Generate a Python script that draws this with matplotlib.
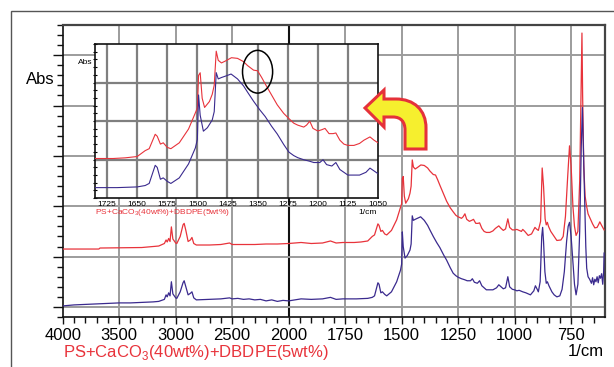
import numpy as np
import matplotlib
matplotlib.use("Agg")
import matplotlib.pyplot as plt
from matplotlib.patches import Ellipse, Rectangle, PathPatch
from matplotlib.path import Path
from matplotlib.ticker import FixedLocator, NullFormatter

plt.rcParams['font.family'] = ['Liberation Sans', 'DejaVu Sans']
plt.rcParams['mathtext.fontset'] = 'custom'
plt.rcParams['mathtext.rm'] = 'Liberation Sans'

# ---------------- data ----------------
red_wn = [4000, 3680, 3670, 3300, 3150, 3100, 3085, 3075, 3062, 3050, 3038, 3025, 3000, 2990,
          2960, 2935, 2925, 2910, 2890, 2870, 2856, 2840, 2817, 2700, 2600, 2523, 2500, 2400,
          2300, 2200, 2100, 2000, 1945, 1900, 1850, 1815, 1790, 1760, 1710, 1680, 1650, 1630,
          1620, 1605, 1600, 1592, 1585, 1575, 1566, 1545, 1522, 1505, 1500, 1497, 1493, 1488,
          1482, 1470, 1463, 1458, 1453, 1448, 1440, 1430, 1415, 1400, 1385, 1375, 1360, 1350,
          1340, 1331, 1315, 1301, 1285, 1272, 1260, 1250, 1235, 1228, 1220, 1212, 1200, 1190,
          1182, 1172, 1162, 1155, 1145, 1135, 1125, 1110, 1096, 1085, 1070, 1060, 1050, 1040,
          1030, 1022, 1010, 1000, 990, 980, 970, 964, 955, 940, 925, 910, 904, 895, 885, 878,
          872, 865, 860, 855, 850, 840, 825, 813, 795, 785, 775, 765, 757, 750, 742, 735, 728,
          720, 712, 705, 702, 699, 694, 688, 681, 675, 665, 655, 645, 635, 628, 623, 615, 604]
red_abs = [1.15, 1.15, 1.17, 1.18, 1.21, 1.26, 1.33, 1.29, 1.36, 1.30, 1.59, 1.35, 1.27, 1.26,
           1.40, 1.63, 1.66, 1.52, 1.30, 1.33, 1.38, 1.26, 1.23, 1.23, 1.24, 1.27, 1.24, 1.24,
           1.24, 1.25, 1.25, 1.26, 1.28, 1.26, 1.27, 1.31, 1.27, 1.28, 1.28, 1.29, 1.31, 1.40,
           1.43, 1.65, 1.62, 1.50, 1.52, 1.45, 1.43, 1.52, 1.73, 1.98, 2.05, 2.55, 2.59, 2.20,
           2.06, 2.15, 2.26, 2.40, 2.92, 2.78, 2.74, 2.77, 2.82, 2.81, 2.76, 2.70, 2.63, 2.62,
           2.52, 2.42, 2.25, 2.10, 1.97, 1.89, 1.82, 1.79, 1.76, 1.79, 1.85, 1.74, 1.70, 1.72,
           1.74, 1.66, 1.66, 1.67, 1.56, 1.50, 1.48, 1.48, 1.51, 1.56, 1.61, 1.56, 1.52, 1.55,
           1.75, 1.58, 1.53, 1.53, 1.54, 1.52, 1.50, 1.54, 1.50, 1.42, 1.45, 1.58, 1.55, 1.52,
           1.70, 2.76, 2.40, 1.75, 1.63, 1.68, 1.60, 1.50, 1.40, 1.32, 1.33, 1.40, 1.80, 2.60,
           3.20, 2.80, 2.00, 1.60, 1.42, 1.50, 2.50, 4.50, 5.44, 4.20, 2.80, 2.20, 1.99, 1.85,
           1.75, 1.65, 1.57, 1.58, 1.64, 1.69, 1.62, 1.53]

blue_wn = [4000, 3900, 3800, 3700, 3600, 3500, 3400, 3300, 3200, 3150, 3100, 3085, 3075, 3062,
           3050, 3038, 3025, 3000, 2990, 2960, 2935, 2925, 2910, 2890, 2870, 2856, 2840, 2817,
           2700, 2600, 2523, 2500, 2450, 2400, 2350, 2300, 2250, 2200, 2150, 2100, 2050, 2000,
           1945, 1900, 1850, 1815, 1790, 1760, 1700, 1650, 1630, 1620, 1605, 1600, 1592, 1585,
           1575, 1566, 1545, 1522, 1505, 1500, 1497, 1493, 1485, 1475, 1463, 1458, 1453, 1448,
           1440, 1430, 1416, 1400, 1385, 1375, 1360, 1345, 1331, 1315, 1301, 1285, 1272, 1260,
           1250, 1235, 1221, 1210, 1195, 1187, 1178, 1165, 1155, 1145, 1125, 1096, 1080, 1070,
           1060, 1050, 1040, 1030, 1022, 1010, 1000, 990, 980, 964, 950, 930, 915, 908, 900,
           895, 887, 880, 876, 872, 866, 860, 855, 848, 835, 825, 813, 800, 790, 780, 770, 763,
           757, 750, 742, 735, 728, 720, 712, 705, 700, 696, 690, 685, 681, 675, 668, 660, 655,
           650, 645, 640, 635, 630, 625, 620, 615, 610, 606, 604]
blue_abs = [0.02, 0.04, 0.05, 0.06, 0.07, 0.08, 0.08, 0.09, 0.10, 0.11, 0.15, 0.24, 0.20, 0.28,
            0.22, 0.50, 0.26, 0.18, 0.17, 0.30, 0.48, 0.52, 0.40, 0.24, 0.27, 0.30, 0.18, 0.14,
            0.15, 0.16, 0.18, 0.16, 0.17, 0.15, 0.16, 0.14, 0.15, 0.12, 0.14, 0.11, 0.13, 0.12,
            0.16, 0.15, 0.16, 0.19, 0.15, 0.16, 0.16, 0.17, 0.19, 0.22, 0.48, 0.45, 0.28, 0.30,
            0.25, 0.22, 0.30, 0.50, 0.73, 0.85, 1.49, 1.20, 0.97, 1.02, 1.13, 1.25, 1.81, 1.72,
            1.74, 1.76, 1.79, 1.72, 1.62, 1.53, 1.40, 1.28, 1.18, 1.04, 0.93, 0.78, 0.67, 0.62,
            0.59, 0.56, 0.54, 0.52, 0.52, 0.56, 0.49, 0.47, 0.52, 0.42, 0.34, 0.34, 0.38, 0.44,
            0.40, 0.36, 0.38, 0.60, 0.40, 0.35, 0.34, 0.32, 0.33, 0.30, 0.28, 0.24, 0.32, 0.42,
            0.35, 0.30, 0.50, 1.40, 1.58, 1.30, 0.70, 0.47, 0.50, 0.42, 0.30, 0.24, 0.20, 0.22,
            0.35, 0.70, 1.30, 1.60, 1.68, 1.40, 0.90, 0.45, 0.24, 0.45, 1.50, 3.20, 3.96, 3.20,
            2.00, 1.20, 0.77, 0.60, 0.55, 0.47, 0.58, 0.44, 0.55, 0.50, 0.60, 0.48, 0.62, 0.57,
            0.66, 0.45, 0.70, 1.07]

# inset display scaling of each spectrum (separate chart in the figure)
red_inset_scale, red_inset_offset = 1.70, -1.15
blue_inset_scale, blue_inset_offset = 1.81, -0.02

main_xticks = [4000, 3500, 3000, 2500, 2000, 1750, 1500, 1250, 1000, 750]
inset_xticks = [1725, 1650, 1575, 1500, 1425, 1350, 1275, 1200, 1125, 1050]
inset_ygrid = [1, 2, 3]
sample_label = r'PS+CaCO$_3$(40wt%)+DBDPE(5wt%)'

RED = '#e8333b'
BLUE = '#3a2a8e'
GRID = '#9c9c9c'
IGRID = '#7f7f7f'

W, H = 614, 367


def fx(x):
    return x / W


def fy(y):
    return 1 - y / H


def fwd(w):
    w = np.asarray(w, dtype=float)
    return np.where(w >= 2000, 2000 + (w - 2000) / 2.0, w)


def inv(u):
    u = np.asarray(u, dtype=float)
    return np.where(u >= 2000, 2000 + (u - 2000) * 2.0, u)


fig = plt.figure(figsize=(W / 100, H / 100), dpi=100)

# outer frame
fig.patches.append(Rectangle((fx(11), -0.1), 1.2, fy(11) + 0.1, transform=fig.transFigure,
                             fill=False, edgecolor='#555555', linewidth=1.0, zorder=-5))

# ---------------- main axes ----------------
ax = fig.add_axes([fx(62.7), fy(317), fx(605) - fx(62.7), fy(25) - fy(317)])
ax.set_xscale('function', functions=(fwd, inv))
ax.set_xlim(4000, 600)
ax.set_ylim(-0.2, 5.6)

for w in main_xticks:
    if w == 4000:
        continue
    if w == 2000:
        ax.axvline(w, color='#111111', lw=1.5, zorder=1)
    else:
        ax.axvline(w, color=GRID, lw=1.4, zorder=1)
for yv in range(0, 6):
    ax.axhline(yv, color=GRID, lw=1.4, zorder=1)

ax.plot(red_wn, red_abs, color=RED, lw=0.9, zorder=3)
ax.plot(blue_wn, blue_abs, color=BLUE, lw=0.9, zorder=3)

ax.xaxis.set_major_locator(FixedLocator(main_xticks))
ax.set_xticklabels([str(t) for t in main_xticks])
minor_x = list(range(4000, 2000, -100)) + list(range(2000, 600, -50))
ax.xaxis.set_minor_locator(FixedLocator(minor_x))
ax.yaxis.set_major_locator(FixedLocator(list(range(0, 6))))
ax.yaxis.set_minor_locator(FixedLocator(list(np.round(np.arange(-0.2, 5.61, 0.2), 2))))
ax.yaxis.set_major_formatter(NullFormatter())
ax.tick_params(axis='x', which='major', direction='out', length=5, width=1.0,
               labelsize=12, pad=3, color='#111111')
ax.tick_params(axis='x', which='minor', direction='out', length=4, width=1.0, color='#111111')
ax.tick_params(axis='y', which='major', direction='out', length=7, width=1.0, color='#111111')
ax.tick_params(axis='y', which='minor', direction='out', length=4, width=1.0, color='#111111')
for side in ['top', 'right']:
    ax.spines[side].set_color('#444444')
    ax.spines[side].set_linewidth(1.6)
for side in ['left', 'bottom']:
    ax.spines[side].set_color('#111111')
    ax.spines[side].set_linewidth(1.2)

fig.text(fx(55), fy(80), 'Abs', ha='right', va='center', fontsize=12)
fig.text(fx(63), fy(352), sample_label, ha='left', va='center', fontsize=12, color=RED)
fig.text(fx(604), fy(352), '1/cm', ha='right', va='center', fontsize=12)

# ---------------- inset axes ----------------
axi = fig.add_axes([fx(95), fy(198), fx(378) - fx(95), fy(44) - fy(198)])
axi.set_zorder(5)
axi.set_facecolor('white')
axi.set_xlim(1755, 1050)
axi.set_ylim(0, 4)
for w in inset_xticks[:-1]:
    axi.axvline(w, color=IGRID, lw=1.6, zorder=2)
for yv in inset_ygrid:
    axi.axhline(yv, color=IGRID, lw=1.6, zorder=2)

axi.plot(red_wn, np.array(red_abs) * red_inset_scale + red_inset_offset,
         color=RED, lw=0.8, zorder=3)
axi.plot(blue_wn, np.array(blue_abs) * blue_inset_scale + blue_inset_offset,
         color=BLUE, lw=0.8, zorder=3)
axi.set_xlim(1755, 1050)
axi.set_ylim(0, 4)

axi.add_patch(Ellipse((1350, 3.28), width=75, height=1.11, fill=False,
                      edgecolor='black', lw=1.1, zorder=4))

axi.xaxis.set_major_locator(FixedLocator(inset_xticks))
axi.set_xticklabels([str(t) for t in inset_xticks])
axi.yaxis.set_major_locator(FixedLocator([0, 1, 2, 3, 4]))
axi.yaxis.set_minor_locator(FixedLocator(list(np.round(np.arange(0, 4.01, 0.2), 2))))
axi.yaxis.set_major_formatter(NullFormatter())
axi.tick_params(axis='x', which='major', length=0, labelsize=6, pad=2.5)
axi.tick_params(axis='y', which='both', direction='inout', length=3.5, width=0.8)
for side in axi.spines:
    axi.spines[side].set_color('#111111')
    axi.spines[side].set_linewidth(1.2)

fig.text(fx(92), fy(63), 'Abs', ha='right', va='center', fontsize=6)
fig.text(fx(95), fy(213), sample_label, ha='left', va='center', fontsize=6, color=RED)
fig.text(fx(377), fy(213), '1/cm', ha='right', va='center', fontsize=6)

# ---------------- curved arrow ----------------
pts = [(365, 108), (384, 90), (384, 99), (396, 99),
       (414, 99), (426, 110), (426, 128),
       (426, 149), (405, 149), (405, 130),
       (405, 122), (401, 117), (393, 117),
       (384, 117), (384, 127), (365, 108)]
codes = [Path.MOVETO, Path.LINETO, Path.LINETO, Path.LINETO,
         Path.CURVE4, Path.CURVE4, Path.CURVE4,
         Path.LINETO, Path.LINETO, Path.LINETO,
         Path.CURVE4, Path.CURVE4, Path.CURVE4,
         Path.LINETO, Path.LINETO, Path.CLOSEPOLY]
verts = [(fx(x), fy(y)) for x, y in pts]
fig.patches.append(PathPatch(Path(verts, codes), transform=fig.transFigure,
                             facecolor='#f6ef2e', edgecolor='#e5313a', lw=2.2,
                             joinstyle='miter', zorder=10))

fig.savefig('out.png', dpi=100)
